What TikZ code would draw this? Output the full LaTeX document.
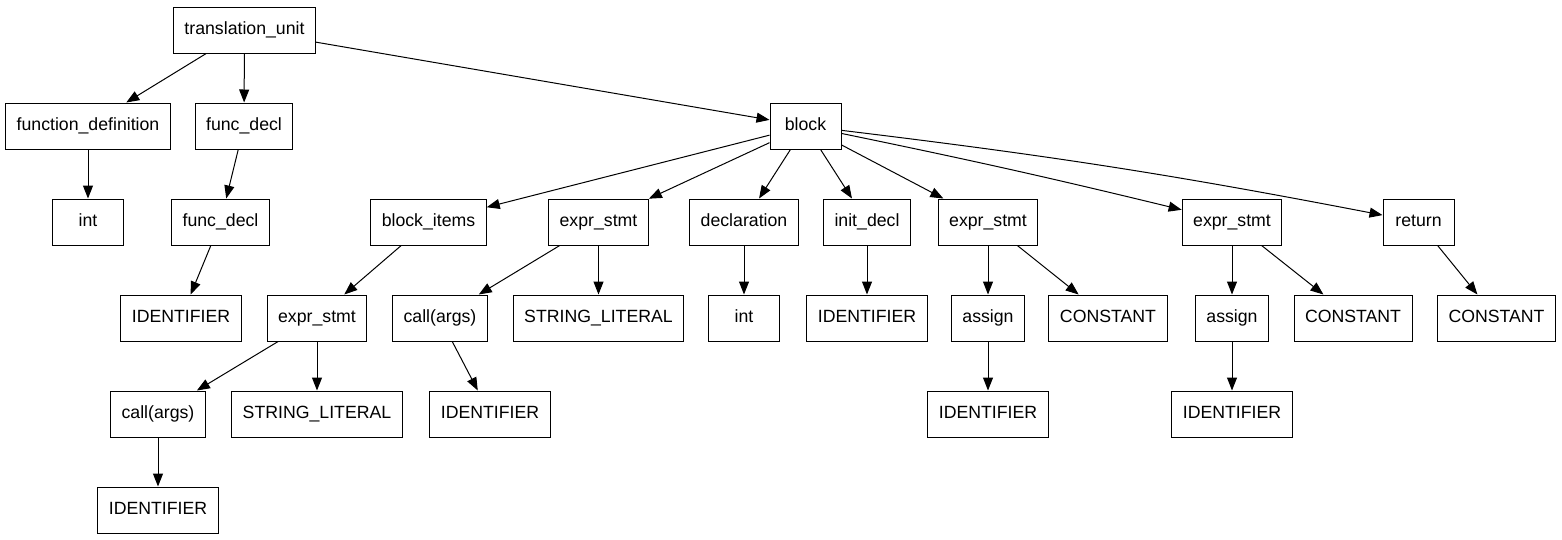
\documentclass[tikz,border=0pt]{standalone}
\usepackage{fontspec}
\setmainfont{Liberation Sans}
\usetikzlibrary{arrows.meta,positioning}

\tikzset{
  ast/.style={draw, line width=1pt, minimum height=46pt, minimum width=71pt,
    inner xsep=11pt, text height=13pt, text depth=4pt,
    font=\fontsize{17.7}{20}\selectfont},
  edge/.style={-{Triangle[length=13pt,width=10pt]}, line width=1pt}
}

\begin{document}
\begin{tikzpicture}[x=1pt,y=-1pt]
\useasboundingbox (0,0) rectangle (1562,539);

% level 0 / 1
\node[ast] (tu) at (244.5,30) {translation\_unit};
\node[ast] (fdef) at (88,126) {function\_definition};
\node[ast] (fdecl) at (244,126) {func\_decl};
\node[ast] (blk) at (805.5,126) {block};

% level 2
\node[ast] (int1) at (88,222) {int};
\node[ast] (fdecl2) at (220.5,222) {func\_decl};
\node[ast] (bitems) at (428.5,222) {block\_items};
\node[ast] (estmt1) at (598.5,222) {expr\_stmt};
\node[ast] (decl) at (744,222) {declaration};
\node[ast] (idecl) at (867,222) {init\_decl};
\node[ast] (estmt2) at (988,222) {expr\_stmt};
\node[ast] (estmt3) at (1232,222) {expr\_stmt};
\node[ast] (ret) at (1418.5,222) {return};

% level 3
\node[ast] (id1) at (181,318) {IDENTIFIER};
\node[ast] (estmt4) at (317,318) {expr\_stmt};
\node[ast] (call1) at (440,318) {call(args)};
\node[ast] (str1) at (598.5,318) {STRING\_LITERAL};
\node[ast] (int2) at (744,318) {int};
\node[ast] (id2) at (867,318) {IDENTIFIER};
\node[ast] (asg1) at (988,318) {assign};
\node[ast] (const1) at (1108,318) {CONSTANT};
\node[ast] (asg2) at (1232,318) {assign};
\node[ast] (const2) at (1353,318) {CONSTANT};
\node[ast] (const3) at (1496.5,318) {CONSTANT};

% level 4 / 5
\node[ast] (call2) at (158,414) {call(args)};
\node[ast] (str2) at (317,414) {STRING\_LITERAL};
\node[ast] (id3) at (490,414) {IDENTIFIER};
\node[ast] (id4) at (988,414) {IDENTIFIER};
\node[ast] (id5) at (1232,414) {IDENTIFIER};
\node[ast] (id6) at (158,510) {IDENTIFIER};

\draw[edge] (tu) -- (fdef);
\draw[edge] (tu) -- (fdecl);
\draw[edge] (tu) -- (blk);

\draw[edge] (fdef) -- (int1);
\draw[edge] (fdecl) -- (fdecl2);
\draw[edge] (fdecl2) -- (id1);

\draw[edge] (blk) -- (bitems);
\draw[edge] (blk) -- (estmt1);
\draw[edge] (blk) -- (decl);
\draw[edge] (blk) -- (idecl);
\draw[edge] (blk) -- (estmt2);
\draw[edge] (blk) to[bend left=1] (estmt3);
\draw[edge] (blk) to[bend left=2] (ret);

\draw[edge] (bitems) -- (estmt4);
\draw[edge] (estmt4) -- (call2);
\draw[edge] (estmt4) -- (str2);
\draw[edge] (call2) -- (id6);

\draw[edge] (estmt1) -- (call1);
\draw[edge] (estmt1) -- (str1);
\draw[edge] (call1) -- (id3);

\draw[edge] (decl) -- (int2);
\draw[edge] (idecl) -- (id2);

\draw[edge] (estmt2) -- (asg1);
\draw[edge] (estmt2) -- (const1);
\draw[edge] (asg1) -- (id4);

\draw[edge] (estmt3) -- (asg2);
\draw[edge] (estmt3) -- (const2);
\draw[edge] (asg2) -- (id5);

\draw[edge] (ret) -- (const3);
\end{tikzpicture}
\end{document}
